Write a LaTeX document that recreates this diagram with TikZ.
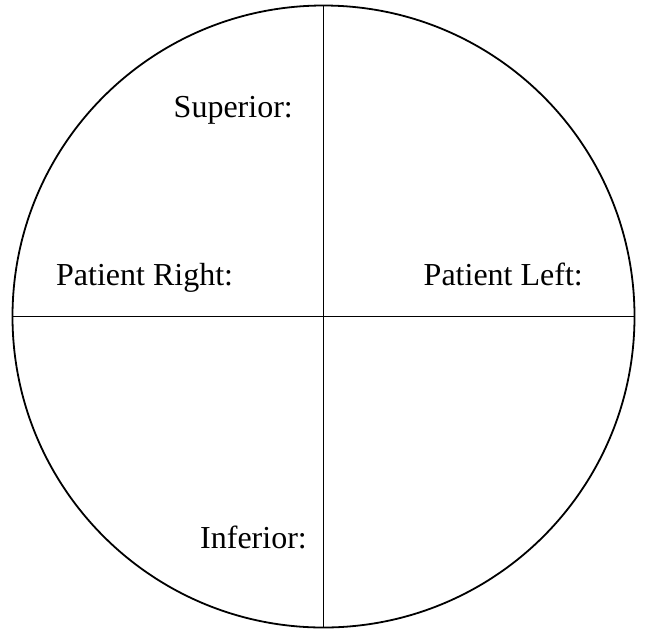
\documentclass[tikz,border=0pt]{standalone}
\usepackage{fontspec}
\setmainfont{Liberation Serif}
\begin{document}
\begin{tikzpicture}[x=1pt,y=-1pt,
  lbl/.style={inner sep=0pt,font=\fontsize{32}{38}\selectfont},
  edge/.style={line width=1.8pt,draw=black}]
\useasboundingbox (0,0) rectangle (647,630);
\coordinate (c) at (323.5,316.5);
\draw[edge] (c) circle[radius=311];
\coordinate (top) at (323.5,5.5);
\coordinate (bot) at (323.5,627.5);
\coordinate (lft) at (12.5,316.5);
\coordinate (rgt) at (634.5,316.5);
\draw[edge] (top) -- (bot);
\draw[edge] (lft) -- (rgt);
\node[lbl,anchor=base east] (sup) at (293,117) {Superior:};
\node[lbl,anchor=base west] (pr) at (56,285) {Patient Right:};
\node[lbl,anchor=base east] (pl) at (583,285) {Patient Left:};
\node[lbl,anchor=base east] (inf) at (307,548) {Inferior:};
\end{tikzpicture}
\end{document}
